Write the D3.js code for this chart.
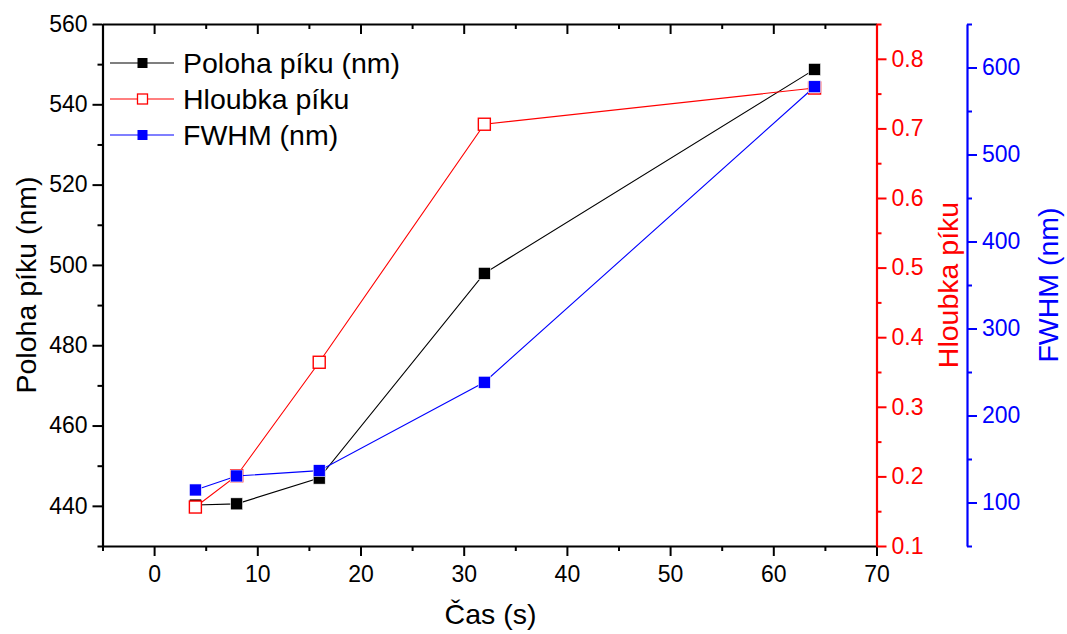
<!DOCTYPE html>
<html>
<head>
<meta charset="utf-8">
<script src="https://cdn.jsdelivr.net/npm/d3@7"></script>
<style>
  html, body { margin: 0; padding: 0; background: #fff; }
  svg { display: block; font-family: "Liberation Sans", Arial, sans-serif; }
</style>
</head>
<body>
<svg id="chart" width="1067" height="634"></svg>
<script>
// Measurement times (s)
const times = [4, 8, 16, 32, 64];
// Peak position (nm) – left axis
const polohaPiku = [440.2, 440.5, 446.9, 497.9, 548.7];
// Peak depth – red right axis
const hloubkaPiku = [0.156, 0.201, 0.364, 0.706, 0.758];
// FWHM (nm) – blue right axis
const fwhm = [114.4, 130.5, 136.6, 238.2, 577.9];

const xTicks = [0, 10, 20, 30, 40, 50, 60, 70];
const leftTicks = [440, 460, 480, 500, 520, 540, 560];
const redTicks = [0.1, 0.2, 0.3, 0.4, 0.5, 0.6, 0.7, 0.8];
const blueTicks = [100, 200, 300, 400, 500, 600];

const svg = d3.select("#chart");
const plot = { left: 102.5, right: 876.5, top: 24, bottom: 546 };

const x = d3.scaleLinear().domain([-5, 70]).range([plot.left, plot.right]);
const yL = d3.scaleLinear().domain([430, 560]).range([plot.bottom, plot.top]);
const yR = d3.scaleLinear().domain([0.1, 0.85]).range([plot.bottom, plot.top]);
const yB = d3.scaleLinear().domain([50, 650]).range([plot.bottom, plot.top]);

const tickFont = "23px";

// Generic axis drawer with major + minor ticks
function drawAxis(g, axisFn, scale, majors, minors, color, fmt, labels = true) {
  const ax = axisFn(scale).tickValues(majors).tickSizeOuter(0).tickSizeInner(10).tickPadding(5)
    .tickFormat(labels ? fmt : () => "");
  g.call(ax);
  const axm = axisFn(scale).tickValues(minors).tickSizeOuter(0).tickSizeInner(5).tickFormat(() => "");
  g.append("g").call(axm).select(".domain").remove();
  g.selectAll(".domain").attr("stroke", color).attr("stroke-width", 2.2);
  g.selectAll(".tick line").attr("stroke", color).attr("stroke-width", 2);
  g.selectAll(".tick text").attr("fill", color).style("font-size", tickFont)
    .style("font-family", "'Liberation Sans', Arial, sans-serif");
}

// Bottom axis
const gx = svg.append("g").attr("transform", `translate(0,${plot.bottom})`);
drawAxis(gx, d3.axisBottom, x, xTicks, [-5, 5, 15, 25, 35, 45, 55, 65], "#000", d3.format("d"));
gx.selectAll(".tick text").attr("dy", "0.9em");

// Top axis (ticks pointing inward, no labels)
const gt = svg.append("g").attr("transform", `translate(0,${plot.top})`);
drawAxis(gt, d3.axisBottom, x, xTicks, [-5, 5, 15, 25, 35, 45, 55, 65], "#000", d3.format("d"), false);

// Left axis
const gl = svg.append("g").attr("transform", `translate(${plot.left},0)`);
drawAxis(gl, d3.axisLeft, yL, leftTicks, [430, 450, 470, 490, 510, 530, 550], "#000", d3.format("d"));

// Red right axis
const gr = svg.append("g").attr("transform", `translate(${plot.right},0)`);
drawAxis(gr, d3.axisRight, yR, redTicks, [0.15, 0.25, 0.35, 0.45, 0.55, 0.65, 0.75, 0.85], "#ff0000", d3.format(".1f"));

// Blue right axis
const blueX = 967;
const gb = svg.append("g").attr("transform", `translate(${blueX},0)`);
drawAxis(gb, d3.axisRight, yB, blueTicks, [50, 150, 250, 350, 450, 550, 650], "#0000ff", d3.format("d"));

// Axis titles
const titleFont = "28.5px";
svg.append("text").attr("x", (plot.left + plot.right) / 2 + 1).attr("y", 624)
  .attr("text-anchor", "middle").style("font-size", titleFont).text("Čas (s)");
svg.append("text").attr("transform", `translate(36,${(plot.top + plot.bottom) / 2}) rotate(-90)`)
  .attr("text-anchor", "middle").style("font-size", titleFont).text("Poloha píku (nm)");
svg.append("text").attr("transform", `translate(958,${(plot.top + plot.bottom) / 2}) rotate(-90)`)
  .attr("text-anchor", "middle").attr("fill", "#ff0000").style("font-size", titleFont).text("Hloubka píku");
svg.append("text").attr("transform", `translate(1058,${(plot.top + plot.bottom) / 2}) rotate(-90)`)
  .attr("text-anchor", "middle").attr("fill", "#0000ff").style("font-size", titleFont).text("FWHM (nm)");

// Series
const series = [
  { name: "Poloha píku (nm)", values: polohaPiku, y: yL, color: "#000000", filled: true },
  { name: "Hloubka píku", values: hloubkaPiku, y: yR, color: "#ff0000", filled: false },
  { name: "FWHM (nm)", values: fwhm, y: yB, color: "#0000ff", filled: true }
];

const ms = 12;
series.forEach(s => {
  const pts = times.map((t, i) => [x(t), s.y(s.values[i])]);
  svg.append("path").attr("d", d3.line()(pts)).attr("fill", "none")
    .attr("stroke", s.color).attr("stroke-width", 1.1);
  svg.append("g").selectAll("rect").data(pts).join("rect")
    .attr("x", d => d[0] - ms / 2).attr("y", d => d[1] - ms / 2)
    .attr("width", ms).attr("height", ms)
    .attr("fill", s.filled ? s.color : "#ffffff")
    .attr("stroke", s.filled ? "#ffffff" : s.color)
    .attr("stroke-width", s.filled ? 0.6 : 1.4);
});

// Legend
const legend = svg.append("g");
const legendY = [63, 99, 135];
const lms = 10;
series.forEach((s, i) => {
  const ly = legendY[i];
  legend.append("line").attr("x1", 110).attr("x2", 174).attr("y1", ly).attr("y2", ly)
    .attr("stroke", s.color).attr("stroke-width", 1.1);
  legend.append("rect").attr("x", 142.5 - lms / 2).attr("y", ly - lms / 2)
    .attr("width", lms).attr("height", lms)
    .attr("fill", s.filled ? s.color : "#ffffff")
    .attr("stroke", s.filled ? "none" : s.color).attr("stroke-width", 1.3);
  legend.append("text").attr("x", 183).attr("y", ly).attr("dy", "0.35em")
    .style("font-size", "28.5px").text(s.name);
});
</script>
</body>
</html>
